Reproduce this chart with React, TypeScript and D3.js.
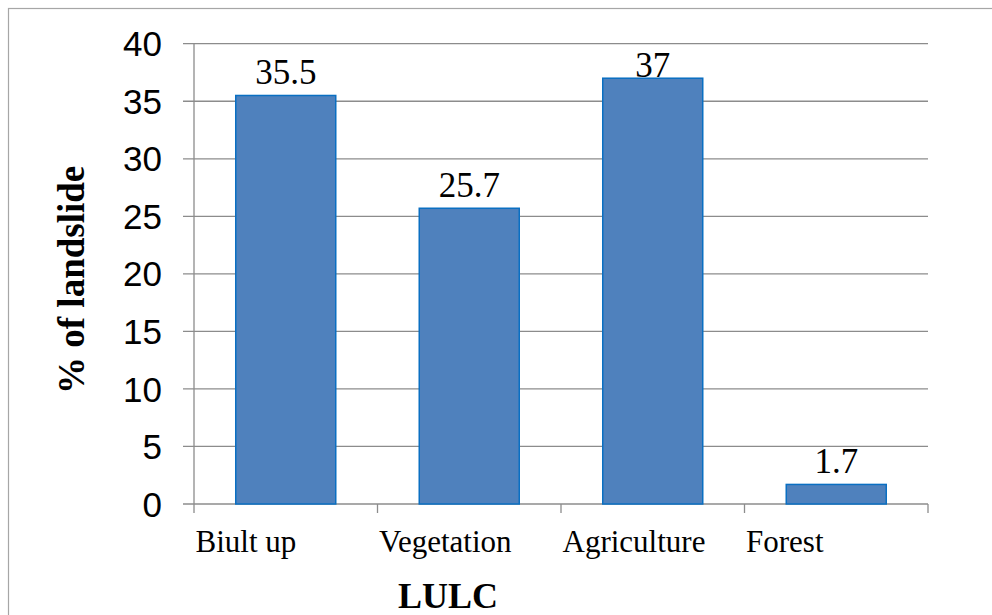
import React from "react";
import * as d3 from "d3";

const categories = ["Biult up", "Vegetation", "Agriculture", "Forest"];
const values = [35.5, 25.7, 37, 1.7];
const yTicks = [0, 5, 10, 15, 20, 25, 30, 35, 40];
const xTitle = "LULC";
const yTitle = "% of landslide";

export default function App() {
  const W = 992, H = 615;
  const left = 194, right = 928, top = 43.7, bottom = 504;
  const x = d3.scaleBand<string>().domain(categories).range([left, right]).paddingInner(0).paddingOuter(0);
  const y = d3.scaleLinear().domain([0, 40]).range([bottom, top]);
  const bw = x.bandwidth() * 0.545;
  const grid = "#8c8c8c";
  const boundaries = categories.map((c) => x(c) as number).concat([right]);

  return (
    <svg width={W} height={H} style={{ position: "absolute", left: 0, top: 0, background: "#fff" }}>
      <rect x={0} y={0} width={W} height={H} fill="#fff" />
      <rect x={8.5} y={8.5} width={1000} height={700} fill="none" stroke="#a6a6a6" strokeWidth={1.2} />
      {yTicks.map((t) => (
        <g key={t}>
          <line x1={183} x2={right} y1={y(t)} y2={y(t)} stroke={grid} strokeWidth={1.3} />
          <text x={162} y={y(t)} dy="0.36em" textAnchor="end" fontFamily="Arial, 'Liberation Sans', sans-serif" fontSize={35} fill="#000">{t}</text>
        </g>
      ))}
      <line x1={left} x2={left} y1={top} y2={bottom} stroke={grid} strokeWidth={1.3} />
      {boundaries.map((b, i) => (
        <line key={i} x1={b} x2={b} y1={bottom} y2={513} stroke={grid} strokeWidth={1.3} />
      ))}
      {categories.map((c, i) => {
        const cx = (x(c) as number) + x.bandwidth() / 2;
        const yt = y(values[i]);
        const lb = Math.max(yt - 11, top + 33);
        return (
          <g key={c}>
            <rect x={cx - bw / 2} y={yt} width={bw} height={bottom - yt} fill="#4F81BD" stroke="#0A6FC2" strokeWidth={1.5} />
            <text x={cx} y={lb} textAnchor="middle" fontFamily="'Times New Roman', 'Liberation Serif', serif" fontSize={35} fill="#000">{values[i]}</text>
            <text x={(x(c) as number) + 1.5} y={551.7} textAnchor="start" fontFamily="'Times New Roman', 'Liberation Serif', serif" fontSize={31} fill="#000">{c}</text>
          </g>
        );
      })}
      <text x={448} y={607.7} textAnchor="middle" fontFamily="'Times New Roman', 'Liberation Serif', serif" fontWeight="bold" fontSize={36} fill="#000">{xTitle}</text>
      <text transform={`translate(84,${(top + bottom) / 2 + 6}) rotate(-90)`} textAnchor="middle" fontFamily="'Times New Roman', 'Liberation Serif', serif" fontWeight="bold" fontSize={37} fill="#000">{yTitle}</text>
    </svg>
  );
}
